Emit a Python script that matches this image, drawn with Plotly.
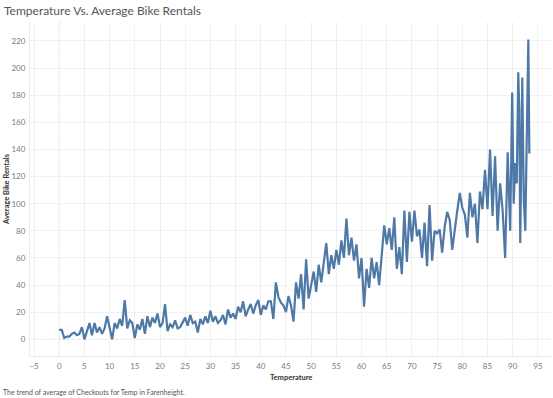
import plotly.graph_objects as go

# Temperature (F) values and average bike rentals
temps = [
    0.0, 0.5, 1.0, 1.5, 2.0, 2.5, 3.0, 3.5, 4.0, 4.5,
    5.0, 5.5, 6.0, 6.5, 7.0, 7.5, 8.0, 8.5, 9.0, 9.5,
    10.0, 10.5, 11.0, 11.5, 12.0, 12.5, 13.0, 13.5, 14.0, 14.5,
    15.0, 15.5, 16.0, 16.5, 17.0, 17.5, 18.0, 18.5, 19.0, 19.5,
    20.0, 20.5, 21.0, 21.5, 22.0, 22.5, 23.0, 23.5, 24.0, 24.5,
    25.0, 25.5, 26.0, 26.5, 27.0, 27.5, 28.0, 28.5, 29.0, 29.5,
    30.0, 30.5, 31.0, 31.5, 32.0, 32.5, 33.0, 33.5, 34.0, 34.5,
    35.0, 35.5, 36.0, 36.5, 37.0, 37.5, 38.0, 38.5, 39.0, 39.5,
    40.0, 40.5, 41.0, 41.5, 42.0, 42.5, 43.0, 43.5, 44.0, 44.5,
    45.0, 45.5, 46.0, 46.5, 47.0, 47.5, 48.0, 48.5, 49.0, 49.5,
    50.0, 50.5, 51.0, 51.5, 52.0, 52.5, 53.0, 53.5, 54.0, 54.5,
    55.0, 55.5, 56.0, 56.5, 57.0, 57.5, 58.0, 58.5, 59.0, 59.5,
    60.0, 60.5, 61.0, 61.5, 62.0, 62.5, 63.0, 63.5, 64.0, 64.5,
    65.0, 65.5, 66.0, 66.5, 67.0, 67.5, 68.0, 68.5, 69.0, 69.5,
    70.0, 70.5, 71.0, 71.5, 72.0, 72.5, 73.0, 73.5, 74.0, 74.5,
    75.0, 75.5, 76.0, 76.5, 77.0, 77.5, 78.0, 78.5, 79.0, 79.5,
    80.0, 80.5, 81.0, 81.5, 82.0, 82.5, 83.0, 83.5, 84.0, 84.5,
    85.0, 85.5, 86.0, 86.5, 87.0, 87.5, 88.0, 88.5, 89.0, 89.5,
    89.9, 90.2, 90.5, 90.8, 91.1, 91.3, 91.5, 91.9, 92.2, 92.5,
    92.7, 93.1, 93.3,
]

avg_rentals = [
    7, 7, 1, 2, 2, 4, 5, 3, 4, 9,
    0, 7, 12, 3, 12, 5, 9, 4, 8, 17,
    9, 0, 12, 8, 15, 10, 29, 8, 14, 12,
    1, 11, 7, 15, 4, 17, 9, 16, 12, 19,
    9, 12, 26, 6, 11, 9, 14, 8, 9, 12,
    16, 10, 18, 12, 13, 5, 15, 11, 17, 12,
    21, 13, 17, 12, 14, 18, 11, 22, 16, 19,
    15, 24, 20, 28, 17, 22, 26, 19, 25, 29,
    18, 25, 22, 28, 28, 15, 42, 31, 27, 25,
    20, 32, 25, 13, 42, 30, 48, 22, 59, 30,
    40, 50, 35, 55, 42, 58, 71, 48, 62, 52,
    66, 55, 73, 60, 89, 62, 75, 58, 70, 45,
    60, 24, 52, 38, 60, 45, 57, 40, 62, 84,
    70, 82, 66, 90, 52, 68, 48, 95, 57, 94,
    72, 95, 76, 81, 60, 86, 54, 99, 58, 80,
    78, 81, 64, 83, 94, 88, 66, 83, 95, 108,
    97, 92, 75, 108, 90, 100, 71, 109, 96, 125,
    96, 140, 91, 135, 80, 115, 95, 60, 138, 80,
    182, 100, 130, 115, 197, 170, 71, 193, 103, 80,
    130, 221, 137,
]

x_ticks = [-5, 0, 5, 10, 15, 20, 25, 30, 35, 40, 45, 50, 55, 60, 65, 70, 75, 80, 85, 90, 95]
y_ticks = [0, 20, 40, 60, 80, 100, 120, 140, 160, 180, 200, 220]

title_text = "Temperature Vs. Average Bike Rentals"
x_title = "Temperature"
y_title = "Average Bike Rentals"
caption = "The trend of average of Checkouts for Temp in Farenheight."

FONT = "Lato, 'Open Sans', sans-serif"

PW = 521  # plot width in px
PH = 334  # plot height in px

fig = go.Figure()
fig.add_trace(go.Scatter(
    x=temps, y=avg_rentals, mode="lines",
    line=dict(color="#4e79a7", width=2.2),
    hoverinfo="x+y",
))

# dotted zero reference lines
fig.add_shape(type="line", xref="x", yref="paper", x0=0, x1=0, y0=0, y1=1,
              line=dict(color="#c8c8c8", width=1, dash="dot"), layer="below")
fig.add_shape(type="line", xref="paper", yref="y", x0=0, x1=1, y0=0, y1=0,
              line=dict(color="#c8c8c8", width=1, dash="dot"), layer="below")

fig.update_layout(
    width=553, height=398,
    margin=dict(l=30, r=2, t=22, b=42, autoexpand=False),
    paper_bgcolor="white", plot_bgcolor="white",
    showlegend=False,
    font=dict(family=FONT, color="#666666", size=8),
    xaxis=dict(
        range=[-5.8, 97.6], tickmode="array", tickvals=x_ticks,
        showgrid=True, gridcolor="#f0f0f0", gridwidth=1, automargin=False,
        zeroline=False, showline=True, linecolor="#ebebeb", linewidth=1,
        ticks="", ticklabelstandoff=2, tickfont=dict(size=8, color="#7a7a7a"),
    ),
    yaxis=dict(
        range=[-12.3, 234], tickmode="array", tickvals=y_ticks,
        showgrid=True, gridcolor="#f0f0f0", gridwidth=1, automargin=False,
        zeroline=False, showline=True, linecolor="#ebebeb", linewidth=1,
        ticks="", ticklabelstandoff=2, tickfont=dict(size=8, color="#7a7a7a"),
    ),
    annotations=[
        dict(text=title_text, xref="paper", yref="paper", x=-28/PW, y=1 + 11/PH,
             xanchor="left", yanchor="middle", showarrow=False,
             font=dict(size=12, color="#555555", family=FONT)),
        dict(text="<b>" + x_title + "</b>", xref="paper", yref="paper", x=0.5, y=-21/PH,
             xanchor="center", yanchor="middle", showarrow=False,
             font=dict(size=7.5, color="#333333", family=FONT)),
        dict(text="<b>" + y_title + "</b>", xref="paper", yref="paper", x=-24/PW, y=0.5,
             xanchor="center", yanchor="middle", showarrow=False, textangle=-90,
             font=dict(size=7.5, color="#333333", family=FONT)),
        dict(text=caption, xref="paper", yref="paper", x=-29/PW, y=-36/PH,
             xanchor="left", yanchor="middle", showarrow=False,
             font=dict(size=7, color="#555555", family=FONT)),
    ],
)

fig.write_html(
    "out.html",
    config={"displayModeBar": False},
    post_script="document.body.style.margin='0';document.body.style.overflow='hidden';",
)
